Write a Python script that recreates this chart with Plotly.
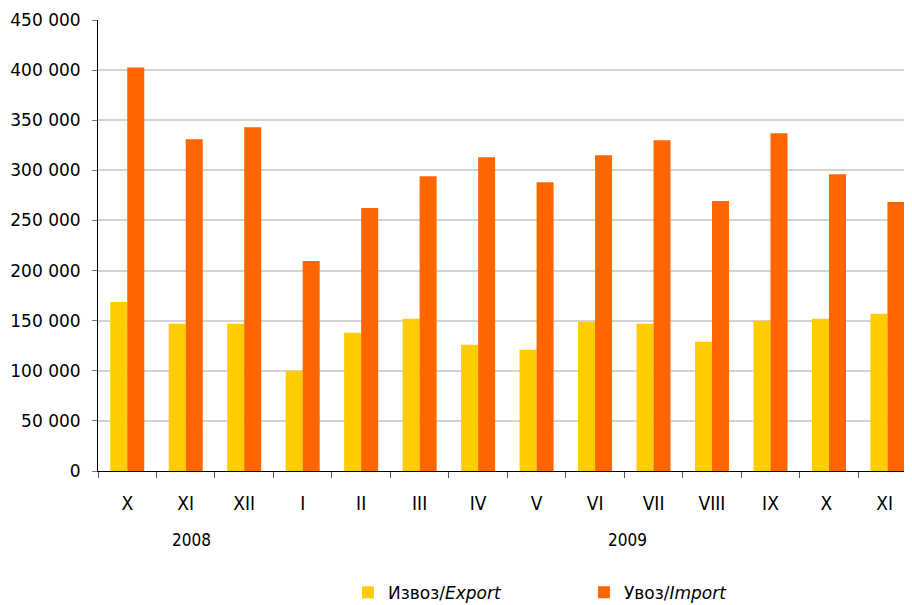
import plotly.graph_objects as go

months = ["X", "XI", "XII", "I", "II", "III", "IV", "V", "VI", "VII", "VIII", "IX", "X ", "XI "]
export_vals = [168750, 146850, 146850, 100050, 137900, 151800, 125900,
               121000, 148800, 146850, 128900, 149800, 151800, 156800]
import_vals = [402700, 331000, 343000, 209560, 262300, 294200, 313100,
               288200, 315100, 330000, 269300, 337000, 296200, 268300]
years = ["2008", "2009"]
y_ticks = [0, 50000, 100000, 150000, 200000, 250000, 300000, 350000, 400000, 450000]
y_tick_text = ["0", "50 000", "100 000", "150 000", "200 000", "250 000",
               "300 000", "350 000", "400 000", "450 000"]

fig = go.Figure()
fig.add_trace(go.Bar(x=months, y=export_vals, name="Извоз/<i>Export</i>",
                     marker=dict(color="#FFCC00", line=dict(width=0))))
fig.add_trace(go.Bar(x=months, y=import_vals, name="Увоз/<i>Import</i>",
                     marker=dict(color="#FF6600", line=dict(width=0))))

font_main = "DejaVu Sans"
font_cond = "DejaVu Sans Condensed, DejaVu Sans"

# page body adds an 8px offset, so the figure is 8px smaller
fig.update_layout(
    width=904, height=597,
    margin=dict(l=90.3, r=0, t=11.5, b=133.5, pad=0, autoexpand=False),
    paper_bgcolor="white", plot_bgcolor="white",
    barmode="group", bargap=0.418, bargroupgap=0,
    font=dict(family=font_main, size=17, color="black"),
    showlegend=True,
    legend=dict(orientation="h", x=0.597, xanchor="center", y=-0.27, yanchor="middle",
                font=dict(family=font_main, size=17, color="black"),
                itemwidth=30, entrywidth=191, traceorder="normal"),
    xaxis=dict(type="category", range=[-0.5, 13.42], showline=True, linecolor="black",
               linewidth=1, ticks="outside", tickson="boundaries", ticklen=6,
               tickcolor="#555555", showgrid=False, ticklabelstandoff=15,
               automargin=False,
               tickfont=dict(family=font_cond, size=19)),
    yaxis=dict(range=[0, 450000], tickvals=y_ticks, ticktext=y_tick_text,
               showline=True, linecolor="black", linewidth=1, ticks="outside",
               ticklen=5, tickcolor="#777777", showgrid=True, gridcolor="#D4D4D4",
               gridwidth=1.5, zeroline=False, ticklabelstandoff=8,
               automargin=False,
               tickfont=dict(family=font_main, size=17)),
)

fig.add_annotation(x=1.1, y=-0.152, xref="x", yref="paper", text=years[0], showarrow=False,
                   font=dict(family=font_cond, size=17), xanchor="center", yanchor="middle")
fig.add_annotation(x=8.55, y=-0.152, xref="x", yref="paper", text=years[1], showarrow=False,
                   font=dict(family=font_cond, size=17), xanchor="center", yanchor="middle")

fig.write_html("out.html")
